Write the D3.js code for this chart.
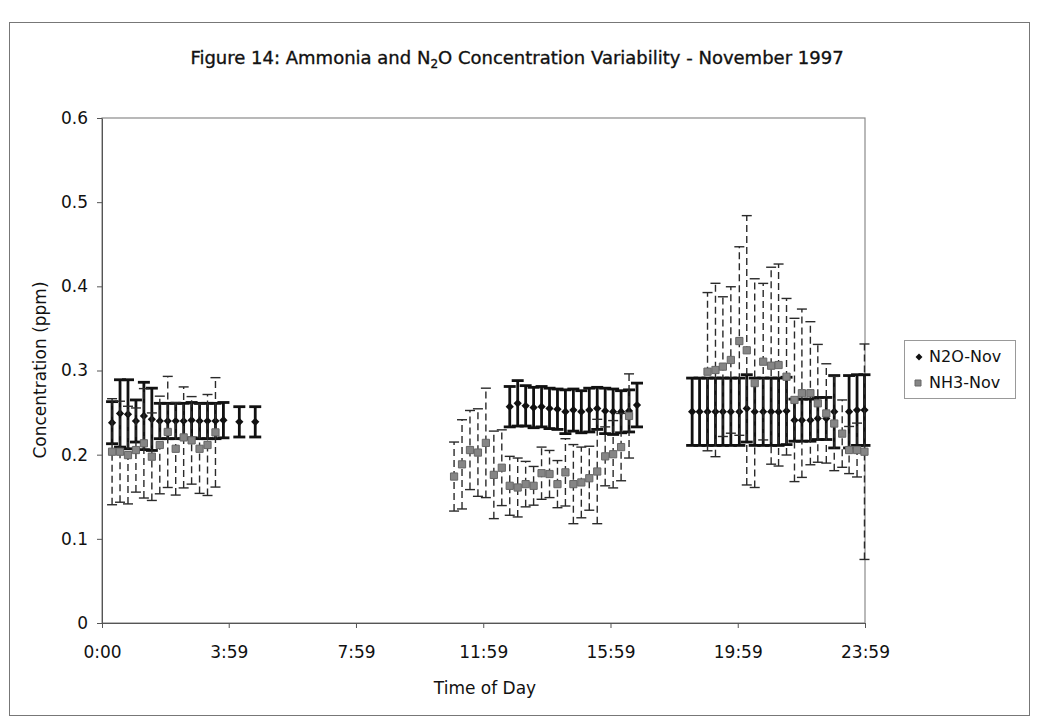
<!DOCTYPE html>
<html>
<head>
<meta charset="utf-8">
<script src="https://cdn.jsdelivr.net/npm/d3@7"></script>
<style>
  body { margin: 0; background: #fff; }
  svg text { font-family: "DejaVu Sans", sans-serif; fill: #111; }
</style>
</head>
<body>
<div id="container"></div>
<script>
// N2O-Nov series
const n2oTime = ["0:19","0:34","0:49","1:04","1:19","1:34","1:49","2:04","2:19","2:34","2:49","3:04","3:19","3:34","3:49","4:19","4:49",
  "12:49","13:04","13:19","13:34","13:49","14:04","14:19","14:34","14:49","15:04","15:19","15:34","15:49","16:04","16:19","16:34","16:49",
  "18:33","18:47","19:02","19:17","19:31","19:46","20:02","20:16","20:31","20:47","21:02","21:16","21:31","21:46","22:00","22:16","22:30","22:46","23:01","23:29","23:44","23:58"];
const n2oVal = [0.238,0.249,0.248,0.240,0.246,0.242,0.240,0.240,0.240,0.240,0.241,0.240,0.240,0.240,0.241,0.239,0.239,
  0.257,0.261,0.258,0.256,0.257,0.255,0.254,0.251,0.253,0.251,0.253,0.255,0.252,0.251,0.251,0.252,0.259,
  0.251,0.251,0.251,0.251,0.251,0.251,0.251,0.255,0.251,0.251,0.251,0.251,0.252,0.241,0.241,0.241,0.243,0.243,0.251,0.251,0.253,0.253];
const n2oErr = [0.025,0.040,0.041,0.025,0.040,0.037,0.021,0.021,0.021,0.021,0.021,0.021,0.021,0.021,0.021,0.018,0.018,
  0.024,0.027,0.024,0.024,0.024,0.024,0.024,0.026,0.025,0.025,0.026,0.025,0.027,0.027,0.025,0.025,0.026,
  0.040,0.040,0.040,0.040,0.040,0.040,0.040,0.040,0.040,0.040,0.040,0.040,0.040,0.025,0.025,0.025,0.025,0.025,0.043,0.043,0.042,0.042];

// NH3-Nov series
const nh3Time = ["0:19","0:34","0:49","1:04","1:19","1:34","1:49","2:04","2:19","2:34","2:49","3:04","3:19","3:34",
  "11:04","11:19","11:34","11:49","12:04","12:19","12:34","12:49","13:04","13:19","13:34","13:49","14:04","14:19","14:34","14:49","15:04","15:19","15:34","15:49","16:04","16:19","16:34",
  "19:02","19:17","19:31","19:46","20:02","20:16","20:31","20:47","21:02","21:16","21:31","21:46","22:00","22:16","22:30","22:46","23:01","23:16","23:29","23:44","23:58"];
const nh3Val = [0.2035,0.2035,0.1995,0.2055,0.2135,0.1976,0.2115,0.227,0.207,0.2205,0.217,0.207,0.2115,0.2265,
  0.174,0.1885,0.2055,0.2025,0.214,0.176,0.1845,0.163,0.161,0.165,0.163,0.178,0.177,0.165,0.179,0.165,0.167,0.172,0.180,0.198,0.2005,0.209,0.246,
  0.2986,0.3006,0.3046,0.3125,0.335,0.324,0.285,0.3105,0.3057,0.3065,0.2926,0.265,0.273,0.273,0.261,0.249,0.237,0.225,0.2055,0.2055,0.2035];
const nh3Err = [0.063,0.060,0.058,0.050,0.065,0.052,0.058,0.066,0.055,0.060,0.052,0.053,0.060,0.065,
  0.041,0.053,0.047,0.052,0.065,0.052,0.045,0.035,0.035,0.027,0.023,0.031,0.028,0.028,0.040,0.047,0.042,0.038,0.062,0.035,0.040,0.040,0.050,
  0.094,0.103,0.083,0.087,0.112,0.160,0.124,0.093,0.117,0.120,0.093,0.097,0.100,0.085,0.070,0.059,0.056,0.040,0.028,0.032,0.128];

const yTicks = [0, 0.1, 0.2, 0.3, 0.4, 0.5, 0.6];
const xTicks = ["0:00", "3:59", "7:59", "11:59", "15:59", "19:59", "23:59"];
const seriesNames = ["N2O-Nov", "NH3-Nov"];

const W = 1037, H = 721;
const pLeft = 102, pRight = 865, pTop = 118, pBottom = 623;

const toMin = (s) => { const p = s.split(":"); return +p[0] * 60 + +p[1]; };

const n2o = n2oTime.map((t, i) => ({ t: toMin(t), v: n2oVal[i], e: n2oErr[i] }));
const nh3 = nh3Time.map((t, i) => ({ t: toMin(t), v: nh3Val[i], e: nh3Err[i] }));

const svg = d3.select("#container").append("svg").attr("width", W).attr("height", H);

// outer frame
svg.append("rect").attr("x", 9.5).attr("y", 22.5).attr("width", 1020).attr("height", 693)
  .attr("fill", "none").attr("stroke", "#777").attr("stroke-width", 1);

const xScale = d3.scaleLinear().domain([0, 1439]).range([pLeft, pRight]);
const yScale = d3.scaleLinear().domain([0, 0.6]).range([pBottom, pTop]);

// plot area border
svg.append("rect").attr("x", pLeft).attr("y", pTop).attr("width", pRight - pLeft).attr("height", pBottom - pTop)
  .attr("fill", "none").attr("stroke", "#8a8a8a").attr("stroke-width", 1.2);

const xAxis = d3.axisBottom(xScale).tickValues(xTicks.map(toMin)).tickFormat((d, i) => xTicks[i]).tickSize(5).tickSizeOuter(0).tickPadding(18);
const gx = svg.append("g").attr("transform", `translate(0, ${pBottom})`).call(xAxis);
gx.select(".domain").attr("stroke", "#555");
gx.selectAll(".tick line").attr("stroke", "#555");
gx.selectAll("text").attr("font-size", 17).attr("fill", "#111");

const yAxis = d3.axisLeft(yScale).tickValues(yTicks).tickFormat(d3.format("")).tickSize(5).tickSizeOuter(0).tickPadding(9);
const gy = svg.append("g").attr("transform", `translate(${pLeft}, 0)`).call(yAxis);
gy.select(".domain").attr("stroke", "#555");
gy.selectAll(".tick line").attr("stroke", "#555");
gy.selectAll("text").attr("font-size", 17).attr("fill", "#111");

// error bars
function errorBars(data, cls, opts) {
  const g = svg.append("g").attr("class", cls);
  g.selectAll("line.v").data(data).enter().append("line").attr("class", "v")
    .attr("x1", d => xScale(d.t)).attr("x2", d => xScale(d.t))
    .attr("y1", d => yScale(d.v - d.e)).attr("y2", d => yScale(d.v + d.e))
    .attr("stroke", opts.color).attr("stroke-width", opts.width).attr("stroke-dasharray", opts.dash);
  ["top", "bot"].forEach(k => {
    g.selectAll("line." + k).data(data).enter().append("line").attr("class", k)
      .attr("x1", d => xScale(d.t) - opts.cap).attr("x2", d => xScale(d.t) + opts.cap)
      .attr("y1", d => yScale(k == "top" ? d.v + d.e : d.v - d.e))
      .attr("y2", d => yScale(k == "top" ? d.v + d.e : d.v - d.e))
      .attr("stroke", opts.color).attr("stroke-width", opts.capWidth);
  });
}

errorBars(n2o, "n2o-err", { color: "#111", width: 2.8, dash: null, cap: 6, capWidth: 2.8 });

svg.append("g").selectAll("path").data(n2o).enter().append("path")
  .attr("d", d3.symbol().type(d3.symbolSquare).size(34))
  .attr("transform", d => `translate(${xScale(d.t)},${yScale(d.v)}) rotate(45)`)
  .attr("fill", "#111");

errorBars(nh3, "nh3-err", { color: "#2a2a2a", width: 1.4, dash: "7,4", cap: 5, capWidth: 1.4 });

svg.append("g").selectAll("path").data(nh3).enter().append("path")
  .attr("d", d3.symbol().type(d3.symbolSquare).size(52))
  .attr("transform", d => `translate(${xScale(d.t)},${yScale(d.v)})`)
  .attr("fill", "#858585").attr("stroke", "#666").attr("stroke-width", 1);

// title
const title = svg.append("text").attr("x", 517).attr("y", 64).attr("text-anchor", "middle")
  .attr("font-size", 18).attr("stroke", "#111").attr("stroke-width", 0.35);
title.append("tspan").text("Figure 14: Ammonia and N");
title.append("tspan").attr("font-size", 12).attr("dy", 4).text("2");
title.append("tspan").attr("dy", -4).text("O Concentration Variability - November 1997");

// axis titles
svg.append("text").attr("x", 485).attr("y", 694).attr("text-anchor", "middle").attr("font-size", 17).text("Time of Day");
svg.append("text").attr("transform", "translate(46, 370) rotate(-90)").attr("text-anchor", "middle")
  .attr("font-size", 17).text("Concentration (ppm)");

// legend
const lg = svg.append("g").attr("transform", "translate(904, 340)");
lg.append("rect").attr("x", 0.5).attr("y", 0.5).attr("width", 111).attr("height", 58)
  .attr("fill", "#fff").attr("stroke", "#999");
lg.append("path").attr("d", d3.symbol().type(d3.symbolSquare).size(24))
  .attr("transform", "translate(15, 17) rotate(45)").attr("fill", "#111");
lg.append("path").attr("d", d3.symbol().type(d3.symbolSquare).size(36))
  .attr("transform", "translate(14, 43)").attr("fill", "#858585").attr("stroke", "#666");
lg.selectAll("text.lab").data(seriesNames).enter().append("text").attr("class", "lab")
  .attr("x", 25).attr("y", (d, i) => 22 + i * 26).attr("font-size", 16).text(d => d);
</script>
</body>
</html>
